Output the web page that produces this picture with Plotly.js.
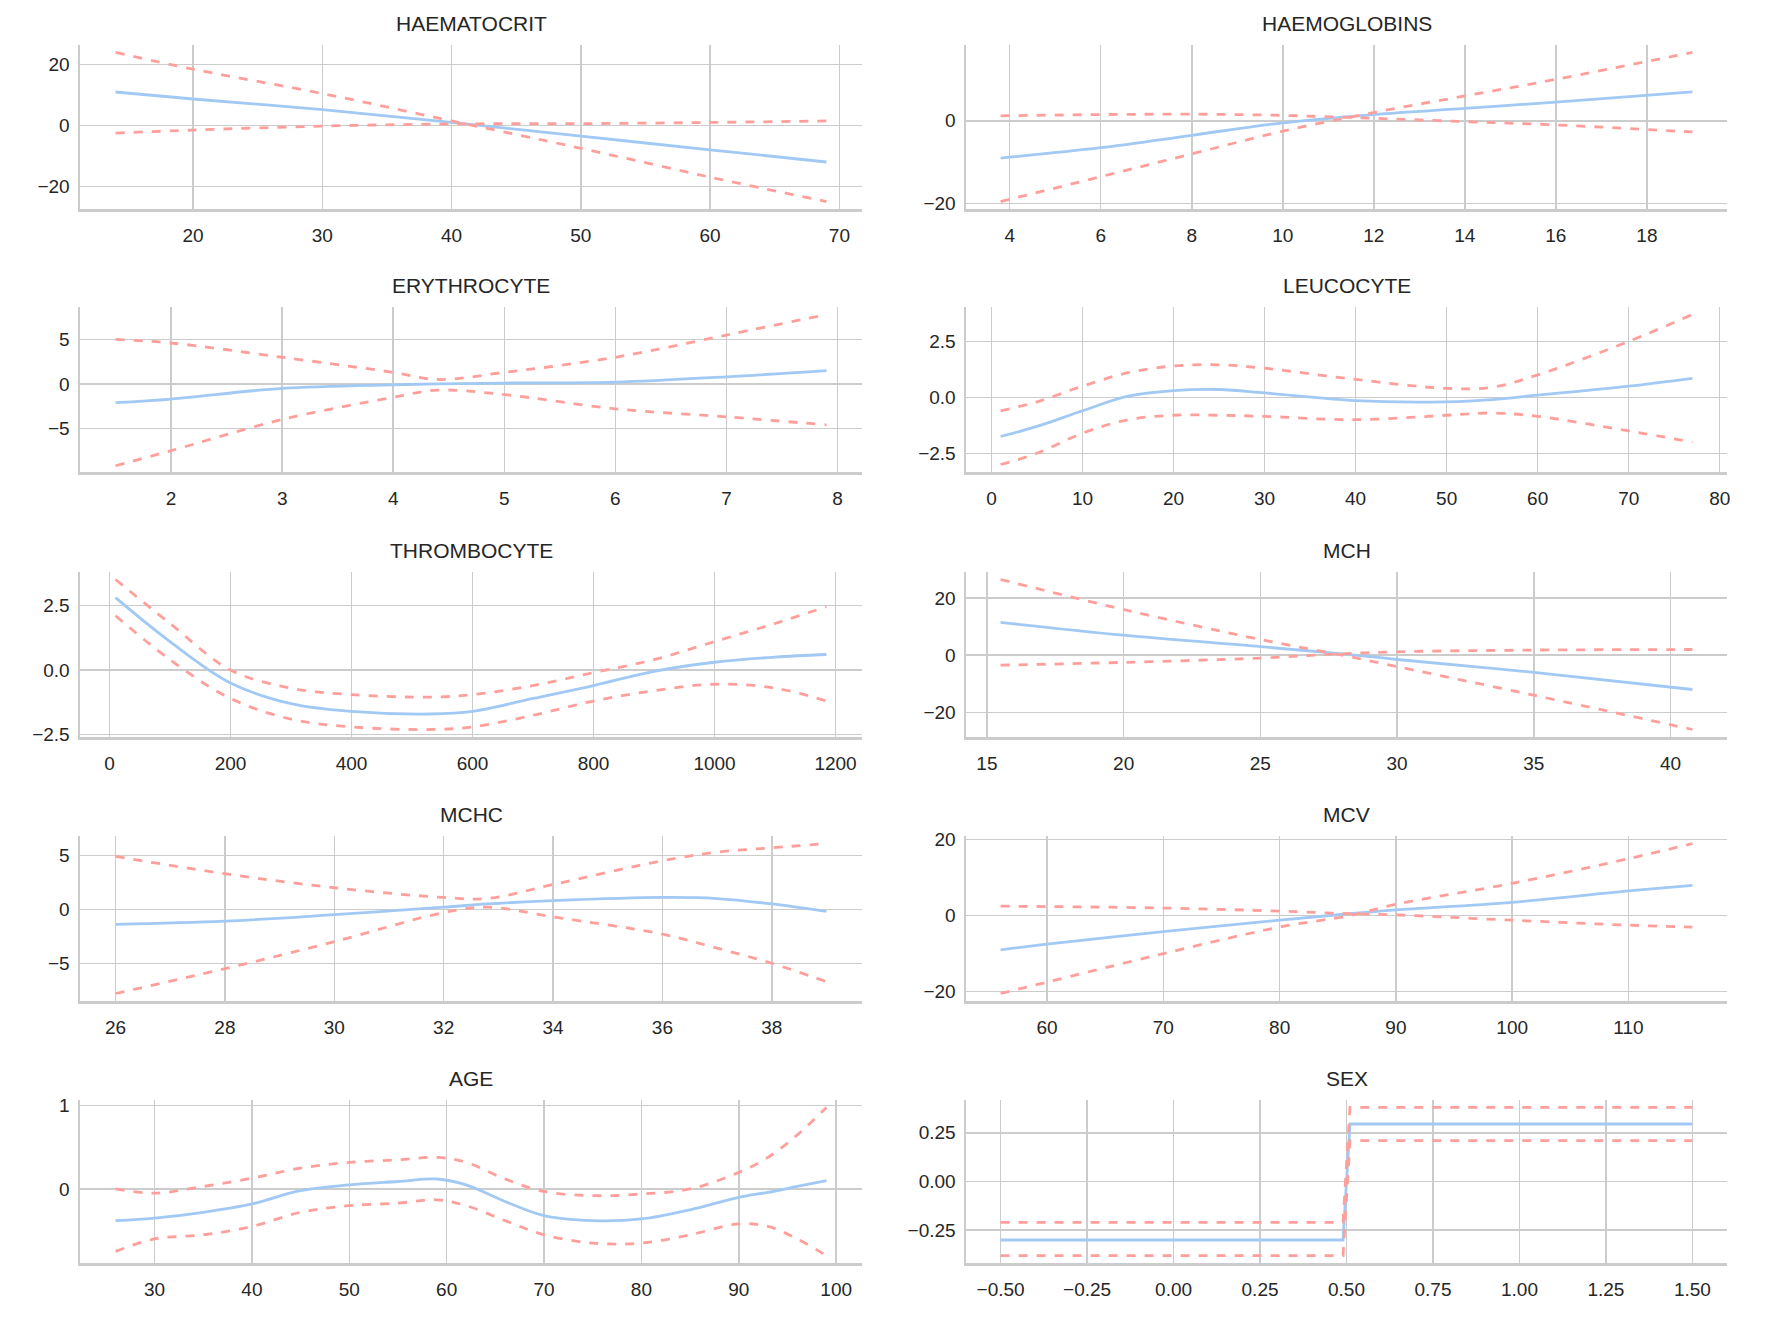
<!DOCTYPE html>
<html>
<head>
<meta charset="utf-8">
<script src="https://cdn.plot.ly/plotly-3.0.1.min.js"></script>
<style>
  body { margin: 0; background: #fff; }
  #chart { width: 1775px; height: 1325px; }
</style>
</head>
<body>
<div id="chart"></div>
<script>
"use strict";

// ----------------------------
// Partial dependence data (mean, two CI bounds)
// ----------------------------
const haemX = [14, 20, 30, 40, 50, 60, 69];
const haemMean = [11, 8.7, 5.2, 1, -3.5, -8, -12];
const haemA = [24, 18.5, 10.5, 1.5, -7.5, -17, -25];
const haemB = [-2.5, -1.5, -0.2, 0.5, 0.6, 1, 1.5];

const hbX = [3.8, 6, 8, 10, 12, 14, 16, 19];
const hbMean = [-9, -6.5, -3.5, -0.5, 1.5, 3, 4.5, 7];
const hbA = [-19.5, -13.5, -8, -2.5, 2, 6, 10, 16.5];
const hbB = [1.2, 1.5, 1.6, 1.3, 0.6, -0.2, -1, -2.7];

const eryX = [1.5, 2, 3, 4, 4.4, 5, 6, 7, 7.9];
const eryMean = [-2.1, -1.7, -0.5, -0.1, 0, 0.1, 0.2, 0.8, 1.5];
const eryA = [5, 4.6, 3, 1.3, 0.5, 1.3, 3, 5.5, 7.8];
const eryB = [-9.2, -7.5, -4, -1.5, -0.7, -1.2, -2.8, -3.7, -4.6];

const leuX = [1, 5, 10, 15, 20, 25, 30, 40, 50, 55, 60, 70, 77];
const leuMean = [-1.75, -1.3, -0.6, 0.05, 0.3, 0.35, 0.2, -0.15, -0.2, -0.1, 0.1, 0.5, 0.85];
const leuA = [-0.6, -0.2, 0.5, 1.1, 1.4, 1.45, 1.3, 0.8, 0.4, 0.45, 1, 2.5, 3.7];
const leuB = [-3, -2.5, -1.6, -1, -0.8, -0.8, -0.85, -1, -0.8, -0.7, -0.85, -1.5, -2];

const thrX = [10, 100, 200, 300, 400, 530, 600, 700, 800, 900, 1000, 1100, 1185];
const thrMean = [2.8, 1.1, -0.5, -1.3, -1.6, -1.7, -1.6, -1.1, -0.6, -0.05, 0.3, 0.5, 0.6];
const thrA = [3.5, 1.8, 0, -0.7, -0.95, -1.05, -0.95, -0.6, -0.1, 0.4, 1.1, 1.8, 2.45];
const thrB = [2.1, 0.4, -1.1, -1.9, -2.2, -2.3, -2.2, -1.75, -1.2, -0.8, -0.55, -0.7, -1.2];

const mchX = [15.5, 20, 25, 28, 30, 35, 40.8];
const mchMean = [11.5, 7, 3, 0.5, -1.5, -6, -12];
const mchA = [26.5, 16, 5.5, 0, -4, -14, -26];
const mchB = [-3.5, -2.5, -1, 0.5, 1.2, 1.8, 2];

const mchcX = [26, 28, 30, 32, 32.8, 34, 36, 37, 38, 39];
const mchcMean = [-1.4, -1.1, -0.5, 0.2, 0.5, 0.8, 1.1, 1, 0.5, -0.2];
const mchcA = [4.9, 3.3, 2, 1.1, 1, 2.3, 4.5, 5.3, 5.7, 6.1];
const mchcB = [-7.8, -5.5, -3, -0.3, 0.2, -0.7, -2.3, -3.6, -5, -6.7];

const mcvX = [56, 60, 70, 80, 86, 90, 100, 110, 115.5];
const mcvMean = [-9, -7.5, -4.2, -1.2, 0.5, 1.5, 3.5, 6.5, 8];
const mcvA = [-20.5, -17.5, -10, -3, 0, 3, 8.5, 15, 19];
const mcvB = [2.5, 2.4, 2, 1.2, 0.5, 0.2, -1.2, -2.5, -3];

const ageX = [26, 30, 35, 40, 45, 50, 55, 59, 62, 66, 70, 75, 80, 85, 90, 93, 96, 99];
const ageMean = [-0.38, -0.35, -0.28, -0.18, -0.02, 0.05, 0.09, 0.12, 0.05, -0.15, -0.32, -0.38, -0.36, -0.25, -0.1, -0.04, 0.03, 0.1];
const ageA = [0, -0.05, 0.03, 0.13, 0.25, 0.32, 0.35, 0.38, 0.32, 0.12, -0.03, -0.08, -0.06, 0, 0.2, 0.38, 0.65, 0.98];
const ageB = [-0.75, -0.6, -0.55, -0.45, -0.28, -0.2, -0.17, -0.13, -0.2, -0.38, -0.55, -0.65, -0.65, -0.55, -0.42, -0.45, -0.6, -0.8];

const sexX = [-0.5, 0.49, 0.51, 1.5];
const sexMean = [-0.3, -0.3, 0.295, 0.295];
const sexA = [-0.21, -0.21, 0.38, 0.38];
const sexB = [-0.38, -0.38, 0.21, 0.21];

const PANELS = [
  { name: "HAEMATOCRIT", x: haemX, m: haemMean, a: haemA, b: haemB, dx: 10, dy: 20 },
  { name: "HAEMOGLOBINS", x: hbX, m: hbMean, a: hbA, b: hbB, dx: 2, dy: 20 },
  { name: "ERYTHROCYTE", x: eryX, m: eryMean, a: eryA, b: eryB, dx: 1, dy: 5, ylo: -9.9 },
  { name: "LEUCOCYTE", x: leuX, m: leuMean, a: leuA, b: leuB, dx: 10, dy: 2.5, fy: ".1f" },
  { name: "THROMBOCYTE", x: thrX, m: thrMean, a: thrA, b: thrB, dx: 200, dy: 2.5, fy: ".1f" },
  { name: "MCH", x: mchX, m: mchMean, a: mchA, b: mchB, dx: 5, dy: 20 },
  { name: "MCHC", x: mchcX, m: mchcMean, a: mchcA, b: mchcB, dx: 2, dy: 5 },
  { name: "MCV", x: mcvX, m: mcvMean, a: mcvA, b: mcvB, dx: 10, dy: 20 },
  { name: "AGE", x: ageX, m: ageMean, a: ageA, b: ageB, dx: 10, dy: 1 },
  { name: "SEX", x: sexX, m: sexMean, a: sexA, b: sexB, dx: 0.25, dy: 0.25, fx: ".2f", fy: ".2f", linear: true },
];

const BLUE = "#a1c9f4";
const RED = "#ff9f9b";
const W = 1775, H = 1325;
const COLS = [[80, 862], [966, 1727]];
const ROWS = [[45, 209], [307, 472], [572, 737], [836, 1001], [1100, 1263]];

function pad(lo, hi) {
  const d = (hi - lo) * 0.05;
  return [lo - d, hi + d];
}

const data = [];
const layout = {
  width: W, height: H,
  paper_bgcolor: "#fff", plot_bgcolor: "#fff",
  font: { family: "Liberation Sans, Arial, sans-serif", size: 19, color: "#262626" },
  margin: { l: 0, r: 0, t: 0, b: 0 },
  showlegend: false,
  annotations: [],
};

PANELS.forEach((p, i) => {
  const k = i + 1;
  const sfx = k === 1 ? "" : String(k);
  const col = COLS[i % 2], row = ROWS[Math.floor(i / 2)];
  const xs = { xaxis: "x" + sfx, yaxis: "y" + sfx, hoverinfo: "skip" };
  const shape = p.linear ? "linear" : "spline";

  data.push(Object.assign({ x: p.x, y: p.m, mode: "lines", line: { color: BLUE, width: 2.8, shape } }, xs));
  data.push(Object.assign({ x: p.x, y: p.a, mode: "lines", line: { color: RED, width: 2.8, dash: "dash", shape } }, xs));
  data.push(Object.assign({ x: p.x, y: p.b, mode: "lines", line: { color: RED, width: 2.8, dash: "dash", shape } }, xs));

  const all = p.m.concat(p.a, p.b);
  const xr = pad(Math.min(...p.x), Math.max(...p.x));
  const yr = pad(Math.min(...all), Math.max(...all));
  if (p.ylo !== undefined) yr[0] = p.ylo;

  const common = {
    showgrid: true, gridcolor: "#cccccc", gridwidth: 1.5,
    zeroline: false, showline: true, linecolor: "#cccccc", linewidth: 2.5,
    ticks: "", tickfont: { size: 19 },
  };
  layout["xaxis" + sfx] = Object.assign({}, common, {
    domain: [col[0] / W, col[1] / W], anchor: "y" + sfx,
    range: xr, dtick: p.dx, tick0: 0, tickformat: p.fx || "", ticklabelstandoff: 8,
  });
  layout["yaxis" + sfx] = Object.assign({}, common, {
    domain: [1 - row[1] / H, 1 - row[0] / H], anchor: "x" + sfx,
    range: yr, dtick: p.dy, tick0: 0, tickformat: p.fy || "", ticklabelstandoff: 4,
  });
  layout.annotations.push({
    text: p.name, xref: "paper", yref: "paper", showarrow: false,
    x: (col[0] + col[1]) / 2 / W, y: 1 - (row[0] - 8) / H,
    xanchor: "center", yanchor: "bottom", font: { size: 21, color: "#262626" },
  });
});

Plotly.newPlot("chart", data, layout, { staticPlot: true });
</script>
</body>
</html>
